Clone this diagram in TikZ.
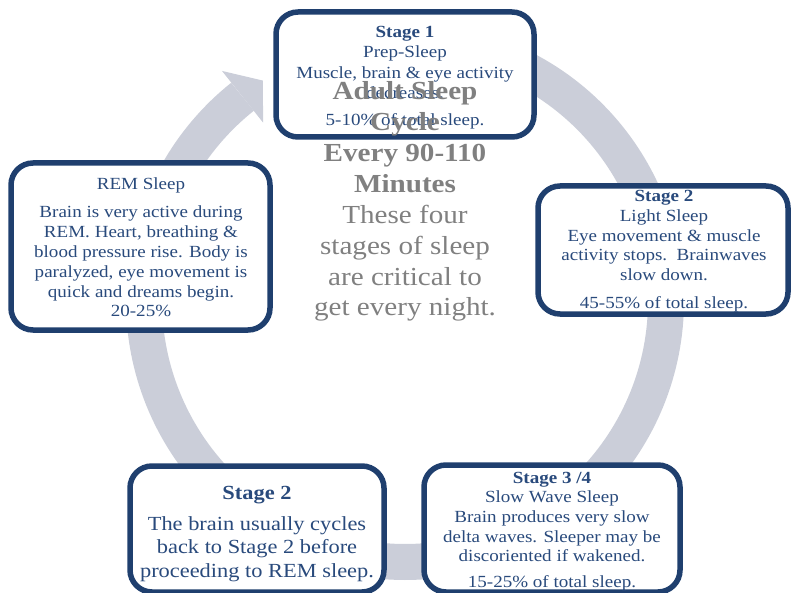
\documentclass[tikz,border=0pt]{standalone}
\usepackage{fontspec}
\setmainfont{Liberation Serif}[FakeStretch=1.12]
\definecolor{ringgray}{HTML}{CBCED9}
\definecolor{boxblue}{HTML}{1F3F6E}
\definecolor{txtblue}{HTML}{294A7C}
\definecolor{midgray}{HTML}{808080}
\tikzset{
  box/.style={draw=boxblue, line width=5.5pt, fill=white, rounded corners=22pt, inner sep=0pt},
  ln/.style={anchor=base, inner sep=0pt, text=txtblue, font=\fontsize{17}{20}\selectfont},
  lnb/.style={ln, font=\fontsize{17}{20}\selectfont\bfseries},
  big/.style={anchor=base, inner sep=0pt, text=txtblue, font=\fontsize{20}{24}\selectfont},
  bigb/.style={big, font=\fontsize{20}{24}\selectfont\bfseries},
  ctr/.style={anchor=base, inner sep=0pt, text=midgray, font=\fontsize{26}{30}\selectfont},
  ctrb/.style={ctr, font=\fontsize{26}{30}\selectfont\bfseries},
  ring/.style={draw=ringgray, line width=36pt},
  ringhead/.style={fill=ringgray, draw=none}
}
\begin{document}
\begin{tikzpicture}[x=1pt, y=-1pt]
\useasboundingbox (0,0) rectangle (791,593);
% cycle ring
\draw[ring] plot[domain=-100:231.5, samples=240] ({405+261*cos(\x)},{301+261*sin(\x)});
\coordinate (hb1) at ({405+294*cos(231.5)},{301+294*sin(231.5)});
\coordinate (hb2) at ({405+228*cos(231.5)},{301+228*sin(231.5)});
\coordinate (htip) at ({405+261*cos(231.5)+26*0.7826},{301+261*sin(231.5)-26*0.6225});
\fill[ringhead] (hb1) -- (htip) -- (hb2) -- cycle;
% boxes
\node[box, minimum width=258pt, minimum height=125pt] (s1) at (405,74.5) {};
\node[box, minimum width=250pt, minimum height=128pt] (s2) at (663,250) {};
\node[box, minimum width=259pt, minimum height=167pt] (rem) at (140.5,246.5) {};
\node[box, minimum width=254pt, minimum height=126pt] (s2b) at (257,529) {};
\node[box, minimum width=256pt, minimum height=127pt] (s34) at (552,528.5) {};
% Stage 1
\node[lnb] (s1a) at (405,38) {Stage 1};
\node[ln] (s1b) at (405,58) {Prep-Sleep};
\node[ln] (s1c) at (405,79) {Muscle, brain \& eye activity};
\node[ln] (s1d) at (405,99) {decreases.};
\node[ln] (s1e) at (405,126) {5-10\% of total sleep.};
% Stage 2 right
\node[lnb] (s2a) at (664,202) {Stage 2};
\node[ln] (s2c) at (664,222) {Light Sleep};
\node[ln] (s2d) at (664,242) {Eye movement \& muscle};
\node[ln] (s2e) at (664,261) {activity stops.\ \ Brainwaves};
\node[ln] (s2f) at (664,280) {slow down.};
\node[ln] (s2g) at (664,308) {45-55\% of total sleep.};
% REM
\node[ln] (r1) at (141,190) {REM Sleep};
\node[ln] (r2) at (141,218) {Brain is very active during};
\node[ln] (r3) at (141,238) {REM. Heart, breathing \&};
\node[ln] (r4) at (141,257.5) {blood pressure rise. Body is};
\node[ln] (r5) at (141,277) {paralyzed, eye movement is};
\node[ln] (r6) at (141,297) {quick and dreams begin.};
\node[ln] (r7) at (141,316.5) {20-25\%};
% Stage 2 bottom
\node[bigb] (b1) at (257,499) {Stage 2};
\node[big] (b2) at (257,530) {The brain usually cycles};
\node[big] (b3) at (257,553.5) {back to Stage 2 before};
\node[big] (b4) at (257,577) {proceeding to REM sleep.};
% Stage 3/4
\node[lnb] (t1) at (552,483) {Stage 3 /4};
\node[ln] (t2) at (552,502) {Slow Wave Sleep};
\node[ln] (t3) at (552,522) {Brain produces very slow};
\node[ln] (t4) at (552,542) {delta waves. Sleeper may be};
\node[ln] (t5) at (552,561) {discoriented if wakened.};
\node[ln] (t6) at (552,587) {15-25\% of total sleep.};
% centre text
\node[ctrb] (c1) at (405,100) {Adult Sleep};
\node[ctrb] (c2) at (405,131) {Cycle};
\node[ctrb] (c3) at (405,162) {Every 90-110};
\node[ctrb] (c4) at (405,193) {Minutes};
\node[ctr] (c5) at (405,223.5) {These four};
\node[ctr] (c6) at (405,254.5) {stages of sleep};
\node[ctr] (c7) at (405,285) {are critical to};
\node[ctr] (c8) at (405,315.5) {get every night.};
\end{tikzpicture}
\end{document}
